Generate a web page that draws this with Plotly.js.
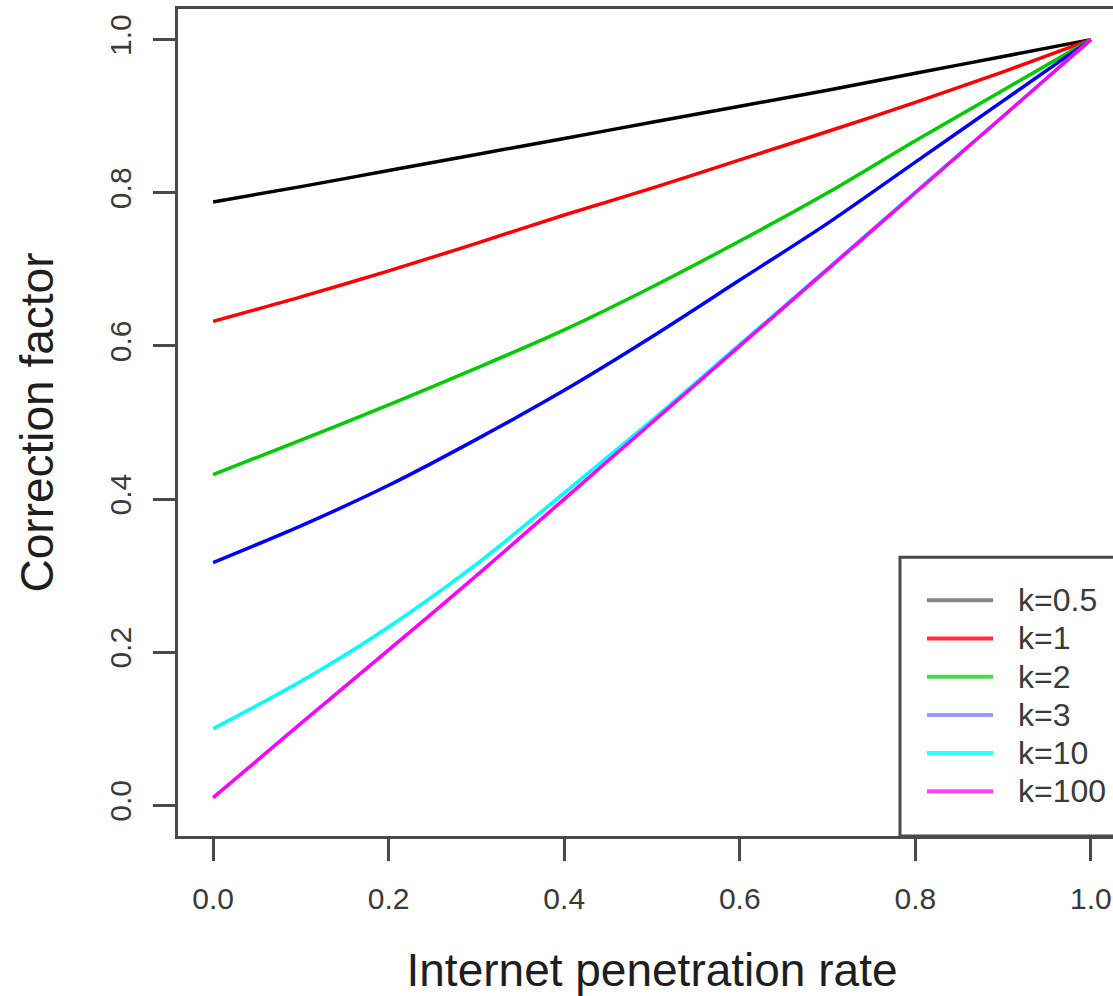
<!DOCTYPE html>
<html>
<head>
<meta charset="utf-8">
<script src="https://cdn.plot.ly/plotly-3.0.1.min.js"></script>
<style>
  html, body { margin: 0; padding: 0; background: #fff; overflow: hidden; }
  #chart { width: 1150px; height: 996px; }
</style>
</head>
<body>
<div id="chart"></div>
<script>
// ---- data ----
const penetration = [0.0, 0.1, 0.2, 0.3, 0.4, 0.5, 0.6, 0.7, 0.8, 0.9, 1.0];
const seriesNames = ["k=0.5", "k=1", "k=2", "k=3", "k=10", "k=100"];
const k05  = [0.788, 0.808, 0.829, 0.850, 0.871, 0.892, 0.913, 0.934, 0.956, 0.978, 1.0];
const k1   = [0.632, 0.664, 0.698, 0.734, 0.771, 0.806, 0.843, 0.880, 0.918, 0.958, 1.0];
const k2   = [0.432, 0.477, 0.523, 0.571, 0.621, 0.677, 0.737, 0.800, 0.868, 0.934, 1.0];
const k3   = [0.317, 0.365, 0.418, 0.478, 0.542, 0.612, 0.686, 0.760, 0.840, 0.920, 1.0];
const k10  = [0.100, 0.162, 0.233, 0.315, 0.408, 0.503, 0.602, 0.701, 0.801, 0.900, 1.0];
const k100 = [0.010, 0.107, 0.203, 0.300, 0.400, 0.500, 0.600, 0.700, 0.800, 0.900, 1.0];
const tickVals = [0, 0.2, 0.4, 0.6, 0.8, 1.0];
const tickText = ["0.0", "0.2", "0.4", "0.6", "0.8", "1.0"];

// ---- styles ----
const lineColors   = ["#000000", "#ff0000", "#00cd00", "#0000ff", "#00ffff", "#ff00ff"];
const legendColors = ["#858585", "#ff3030", "#48dc48", "#9a9aff", "#30ffff", "#ff40ff"];
const allSeries = [k05, k1, k2, k3, k10, k100];

const FONT = "Liberation Sans, Arial, Helvetica, sans-serif";
const AXC = "#4a4a4a";

const traces = allSeries.map((ys, i) => ({
  type: "scatter",
  mode: "lines",
  x: penetration,
  y: ys,
  name: seriesNames[i],
  line: { color: lineColors[i], width: 3.5, shape: "spline", smoothing: 0.8 },
  showlegend: false,
  hoverinfo: "skip"
}));

// legend geometry (paper coords)
const W = 1150, H = 996;
const mL = 178, mR = W - 1126, mT = 9.4, mB = H - 835.6;
const pw = W - mL - mR, ph = H - mT - mB;
const px2x = (px) => (px - mL) / pw;
const py2y = (py) => (H - mB - py) / ph;

const shapes = [{
  type: "rect", xref: "paper", yref: "paper",
  x0: px2x(900), x1: 1.0, y0: 0.0, y1: py2y(557),
  line: { color: AXC, width: 3 }, fillcolor: "rgba(0,0,0,0)", layer: "above"
}];
const annotations = [];
const rowY0 = 600, rowStep = 38.2;
seriesNames.forEach((nm, i) => {
  const yy = py2y(rowY0 + i * rowStep);
  shapes.push({
    type: "line", xref: "paper", yref: "paper",
    x0: px2x(927), x1: px2x(993), y0: yy, y1: yy,
    line: { color: legendColors[i], width: 4 }, layer: "above"
  });
  annotations.push({
    xref: "paper", yref: "paper", x: px2x(1016), y: yy,
    xanchor: "left", yanchor: "middle", showarrow: false,
    text: nm, font: { family: FONT, size: 32, color: "#3a3a3a" }
  });
});

const layout = {
  width: W, height: H,
  margin: { l: mL, r: mR, t: mT, b: mB, pad: 0 },
  paper_bgcolor: "#ffffff", plot_bgcolor: "#ffffff",
  font: { family: FONT },
  xaxis: {
    range: [-0.04, 1.04], autorange: false,
    tickmode: "array", tickvals: tickVals, ticktext: tickText,
    showgrid: false, zeroline: false,
    showline: true, mirror: true, linecolor: AXC, linewidth: 3,
    ticks: "outside", ticklen: 22, tickwidth: 3, tickcolor: AXC,
    ticklabelstandoff: 12,
    tickfont: { family: FONT, size: 30, color: "#3a3a3a" },
    title: { text: "Internet penetration rate", font: { family: FONT, size: 46, color: "#1e1e1e" }, standoff: 40 }
  },
  yaxis: {
    range: [-0.04, 1.04], autorange: false,
    tickmode: "array", tickvals: tickVals, ticktext: tickText,
    tickangle: -90,
    showgrid: false, zeroline: false,
    showline: true, mirror: true, linecolor: AXC, linewidth: 3,
    ticks: "outside", ticklen: 22, tickwidth: 3, tickcolor: AXC,
    ticklabelstandoff: 10,
    tickfont: { family: FONT, size: 30, color: "#3a3a3a" },
    title: { text: "Correction factor", font: { family: FONT, size: 46, color: "#1e1e1e" }, standoff: 36 }
  },
  shapes: shapes,
  annotations: annotations,
  showlegend: false
};

Plotly.newPlot("chart", traces, layout, { staticPlot: true, displayModeBar: false });
</script>
</body>
</html>
